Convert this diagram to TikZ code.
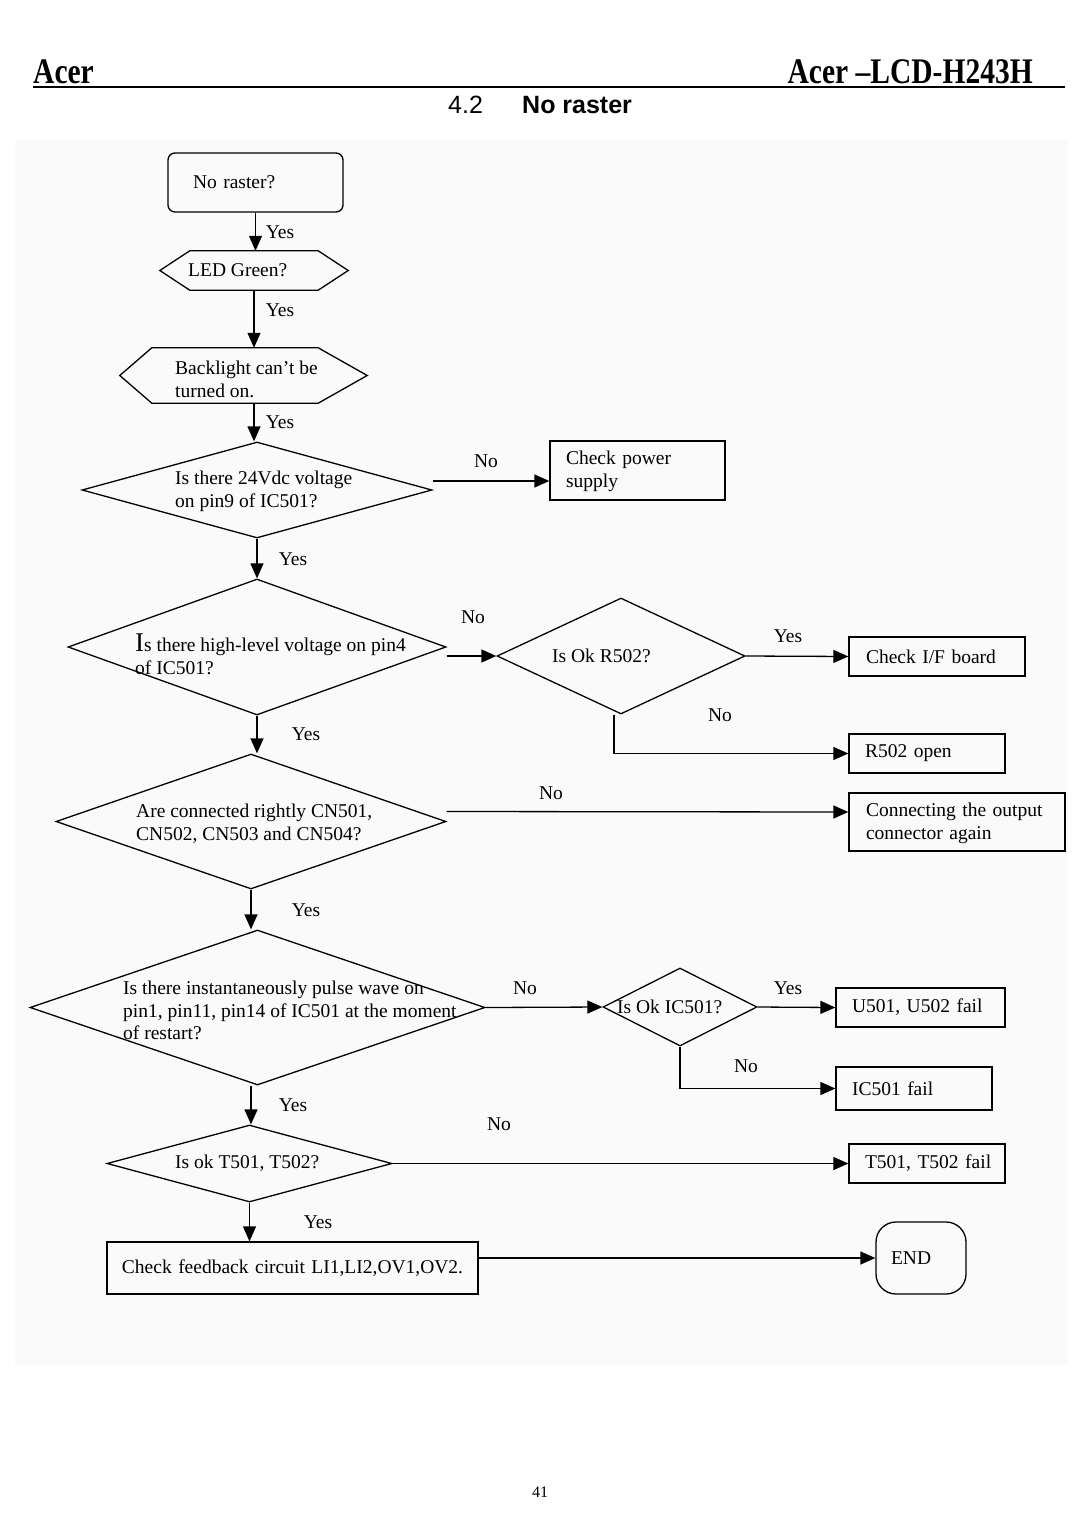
\documentclass[tikz,border=0pt]{standalone}
\usepackage{fontspec}
\setmainfont{Liberation Serif}
\setsansfont{Liberation Sans}
\newfontfamily\hdrfont[FakeStretch=0.82]{Liberation Serif}
\usepackage{tikz}
\usetikzlibrary{arrows.meta}
\usetikzlibrary{shapes.geometric}
\tikzstyle{flowtext}=[font=\fontsize{19.5}{23}\selectfont]
\tikzstyle{txt}=[flowtext,inner sep=0pt,anchor=west,align=left]
\tikzstyle{box}=[draw,line width=1.3pt,flowtext,align=left]
\tikzstyle{dia}=[draw,line width=1.3pt,shape=diamond,inner sep=0pt]
\tikzstyle{hexa}=[inner sep=0pt]
\tikzstyle{flow}=[line width=1.3pt,-{Triangle[length=15pt,width=13pt]}]

\begin{document}
\begin{tikzpicture}[x=1pt,y=-1pt]
	\useasboundingbox (0,0) rectangle (1080,1528);
	\fill[black!2] (15,140) rectangle (1068,1365);
	% page head
	\node (hl) [anchor=base west,inner sep=0pt,font=\hdrfont\bfseries\fontsize{36}{36}\selectfont] at (33,83) {Acer};
	\node (hr) [anchor=base east,inner sep=0pt,font=\hdrfont\bfseries\fontsize{36}{36}\selectfont] at (1033,83) {Acer –LCD-H243H};
	\draw[line width=2.2pt] (33,87) -- (1065,87);
	\node (sec) [anchor=base west,inner sep=0pt,font=\sffamily\fontsize{25}{25}\selectfont] at (448,113) {4.2};
	\node (title) [anchor=base west,inner sep=0pt,font=\sffamily\bfseries\fontsize{25}{25}\selectfont] at (522,113) {No raster};
	% shapes
	\node (raster) [box,rounded corners=7pt,text width=125pt,inner xsep=25pt,minimum height=59pt] at (255.5,182.5) {No raster?};
	\node (led) [hexa,minimum width=188pt,minimum height=39pt] at (254,270.5) {};
	\draw[line width=1.3pt] (led.west) -- ([xshift=30pt]led.north west) -- ([xshift=-30pt]led.north east) -- (led.east)
		-- ([xshift=-30pt]led.south east) -- ([xshift=30pt]led.south west) -- cycle;
	\node (blight) [hexa,minimum width=247pt,minimum height=55pt] at (243.5,375.5) {};
	\draw[line width=1.3pt] (blight.west) -- ([xshift=32pt]blight.north west) -- ([xshift=-49pt]blight.north east) -- (blight.east)
		-- ([xshift=-49pt]blight.south east) -- ([xshift=32pt]blight.south west) -- cycle;
	\node (v24) [dia,minimum width=350pt,minimum height=96pt] at (257,490) {};
	\node (power) [box,text width=143pt,inner xsep=16pt,minimum height=59pt] at (637.5,470.5) {\strut Check power\\supply};
	\node (pin4) [dia,minimum width=378pt,minimum height=136pt] at (257,647) {};
	\node (r502) [dia,minimum width=248pt,minimum height=116pt] at (621,656) {};
	\node (ifb) [box,text width=142pt,inner xsep=17pt,minimum height=39pt] at (937,656.5) {Check I/F board};
	\node (r502o) [box,text width=124pt,inner xsep=16pt,minimum height=39pt] at (927,753.5) {R502 open};
	\node (cn) [dia,minimum width=390pt,minimum height=135pt] at (251,821.5) {};
	\node (conn) [box,text width=182pt,inner xsep=17pt,minimum height=58pt] at (957,822) {\strut Connecting the output\\connector again};
	\node (pulse) [dia,minimum width=455pt,minimum height=155pt] at (257.5,1007.5) {};
	\node (ic501) [dia,minimum width=154pt,minimum height=78pt] at (680,1007) {};
	\node (u501) [box,text width=137pt,inner xsep=16pt,minimum height=39pt] at (920.5,1007.5) {\mbox{U501, U502 fail}};
	\node (icf) [box,text width=124pt,inner xsep=16pt,minimum height=43pt] at (914,1088.5) {IC501 fail};
	\node (t501) [dia,minimum width=285pt,minimum height=77pt] at (249.5,1163.5) {};
	\node (tf) [box,text width=124pt,inner xsep=16pt,minimum height=39pt] at (927,1163.5) {\mbox{T501, T502 fail}};
	\node (fb) [box,align=center,text width=351pt,inner xsep=10pt,minimum height=52pt] at (292.5,1268) {Check feedback circuit LI1,LI2,OV1,OV2.};
	\node (endn) [box,rounded corners=20pt,text width=60pt,inner xsep=15pt,minimum height=72pt] at (921,1258) {END};
	% texts of the decisions
	\node (ledt) [txt] at (188,270) {LED Green?};
	\node (blightt) [txt] at (175,379.5) {Backlight can't be\\turned on.};
	\node (v24t) [txt] at (175,491.5) {Is there 24Vdc voltage\\on pin9 of IC501?};
	\node (pin4t) [txt] at (135,654) {{\fontsize{27}{23}\selectfont I}s there high-level voltage on pin4\\of IC501?};
	\node (r502t) [txt] at (552,656) {Is Ok R502?};
	\node (cnt) [txt] at (136,823.5) {Are connected rightly CN501,\\CN502, CN503 and CN504?};
	\node (pulset) [txt,font=\fontsize{19.5}{22.5}\selectfont] at (123,1010.5) {Is there instantaneously pulse wave on\\pin1, pin11, pin14 of IC501 at the moment\\of restart?};
	\node (ic501t) [txt] at (617,1007) {Is Ok IC501?};
	\node (t501t) [txt] at (175,1163) {Is ok T501, T502?};
	% connectors
	\draw[flow] (raster.south) -- (raster.south |- led.north);
	\draw[flow] (led.south) -- (led.south |- blight.north);
	\draw[flow] (led.south |- blight.south) -- (led.south |- v24.north);
	\draw[flow] ([yshift=9pt]v24.east) -- ([yshift=-10.5pt]power.west);
	\draw[flow] (v24.south) -- (pin4.north);
	\draw[flow] ([yshift=-9pt]pin4.east) -- (r502.west);
	\draw[flow] (r502.east) -- (ifb.west);
	\draw[flow] ([xshift=-7pt]r502.south) |- (r502o.west);
	\draw[flow] (pin4.south) -- (pin4.south |- cn.north);
	\draw[flow] ([yshift=10pt]cn.east) -- ([yshift=10pt]conn.west);
	\draw[flow] (cn.south) -- (cn.south |- pulse.north);
	\draw[flow] (pulse.east) -- (ic501.west);
	\draw[flow] (ic501.east) -- (u501.west);
	\draw[flow] (ic501.south) |- (icf.west);
	\draw[flow] (cn.south |- pulse.south) -- (cn.south |- t501.north);
	\draw[flow] (t501.east) -- (tf.west);
	\draw[flow] (t501.south) -- (t501.south |- fb.north);
	\draw[flow] (fb.east |- endn.west) -- (endn.west);
	% answers
	\foreach \x/\y/\t [count=\i] in {280/232/Yes,280/310/Yes,280/422/Yes,486/461/No,293/559/Yes,473/617/No,
		788/636/Yes,720/715/No,306/734/Yes,551/793/No,306/910/Yes,525/988/No,788/988/Yes,746/1066/No,
		293/1105/Yes,499/1124/No,318/1222/Yes}
		\node (ans\i) [flowtext,inner sep=0pt] at (\x,\y) {\t};
	\node (page) [font=\fontsize{16}{16}\selectfont] at (540,1492) {41};
\end{tikzpicture}
\end{document}
